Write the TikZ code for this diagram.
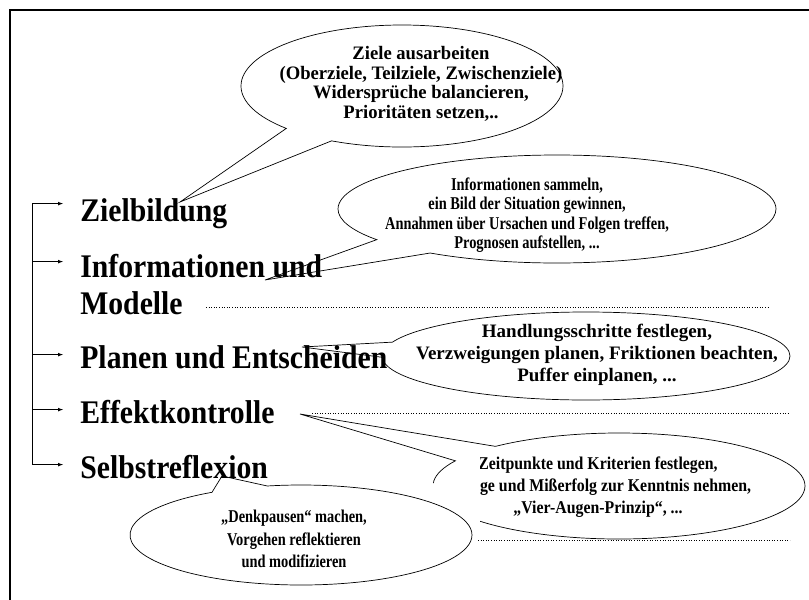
\documentclass[tikz,border=0pt]{standalone}
\usepackage{fontspec}
\setmainfont{Liberation Serif}
\newfontfamily\stagefont[FakeStretch=0.9]{Liberation Serif}
\newfontfamily\narrowA[FakeStretch=0.8]{Liberation Serif}
\newfontfamily\narrowB[FakeStretch=0.88]{Liberation Serif}
\newfontfamily\narrowC[FakeStretch=0.98]{Liberation Serif}
\usetikzlibrary{shapes.callouts}

\begin{document}
\begin{tikzpicture}[x=1pt,y=-1pt,>=latex,line width=0.7pt,
    stage/.style={anchor=north west,inner sep=0pt,align=left,font=\stagefont\fontsize{33}{37}\selectfont\bfseries},
    bubble/.style={ellipse callout,draw,fill=white,inner sep=0pt,callout pointer arc=20},
    note/.style={align=center,inner sep=0pt},
    sep/.style={dotted,line width=0.6pt}]
    \useasboundingbox (0,0) rectangle (809,600);
    \draw[line width=2pt] (10,640) -- (10,10) -- (850,10);

    \coordinate (zielTip) at (180,202);
    \node[bubble,minimum width=322pt,minimum height=122pt,callout absolute pointer={(zielTip)}] (zielBubble) at (402,86) {};
    \node[note,font=\narrowC\fontsize{19}{19.5}\selectfont\bfseries] (zielNote) at (421,84) {Ziele ausarbeiten\\(Oberziele, Teilziele, Zwischenziele)\\Widersprüche balancieren,\\Prioritäten setzen,..};

    \coordinate (infoTip) at (265,280);
    \node[bubble,minimum width=438pt,minimum height=108pt,callout absolute pointer={(infoTip)}] (infoBubble) at (557,209) {};
    \node[note,font=\narrowA\fontsize{18}{19.5}\selectfont\bfseries] (infoNote) at (527,215) {Informationen sammeln,\\ein Bild der Situation gewinnen,\\Annahmen über Ursachen und Folgen treffen,\\Prognosen aufstellen, ...};

    \coordinate (sepA) at (206,307);
    \coordinate (sepAEnd) at (770,307);
    \draw[sep] (sepA) -- (sepAEnd);

    \coordinate (planTip) at (302,347);
    \node[bubble,minimum width=408pt,minimum height=88pt,callout absolute pointer={(planTip)}] (planBubble) at (586,356) {};
    \node[note,font=\fontsize{19}{22}\selectfont\bfseries] (planNote) at (597,355) {Handlungsschritte festlegen,\\Verzweigungen planen, Friktionen beachten,\\Puffer einplanen, ...};

    \coordinate (sepB) at (312,413);
    \coordinate (sepBEnd) at (790,413);
    \draw[sep] (sepB) -- (sepBEnd);

    \coordinate (effektTip) at (300,414);
    \begin{scope}
        \clip (480,0) -- (809,0) -- (809,600) -- (480,600) -- (480,483) -- (0,483) -- cycle;
        \node[bubble,minimum width=372pt,minimum height=106pt,callout absolute pointer={(effektTip)}] (effektBubble) at (619,486) {};
    \end{scope}
    \begin{scope}
        \clip (480,420) rectangle (809,560);
        \node[note,font=\narrowB\fontsize{18}{22}\selectfont\bfseries] (effektNote) at (598,487) {Zeitpunkte und Kriterien festlegen,\\Erfolge und Mißerfolg zur Kenntnis nehmen,\\„Vier-Augen-Prinzip“, ...};
    \end{scope}

    \coordinate (sepC) at (478,540);
    \coordinate (sepCEnd) at (790,540);
    \draw[sep] (sepC) -- (sepCEnd);

    \coordinate (denkTip) at (222,476);
    \node[bubble,minimum width=342pt,minimum height=100pt,callout absolute pointer={(denkTip)}] (denkBubble) at (301,535) {};
    \node[note,font=\narrowA\fontsize{18}{22.5}\selectfont\bfseries] (denkNote) at (294,539) {„Denkpausen“ machen,\\Vorgehen reflektieren\\und modifizieren};

    \node[stage] (ziel) at (80,198.6) {Zielbildung};
    \node[stage] (info) at (80,253.6) {Informationen und\\Modelle};
    \node[stage] (plan) at (80,345.6) {Planen und Entscheiden};
    \node[stage] (effekt) at (80,399.6) {Effektkontrolle};
    \node[stage] (selbst) at (80,454.6) {Selbstreflexion};

    \coordinate (spine) at (32,0);
    \foreach \s/\d in {ziel/5,info/8,plan/9,effekt/10,selbst/10}
        \coordinate (\s-in) at ([xshift=-17pt,yshift=-\d pt]\s.north west);
    \draw (ziel-in -| spine) -- (selbst-in -| spine);
    \foreach \s in {ziel,info,plan,effekt,selbst}
        \draw[->] (\s-in -| spine) -- (\s-in);
\end{tikzpicture}
\end{document}
